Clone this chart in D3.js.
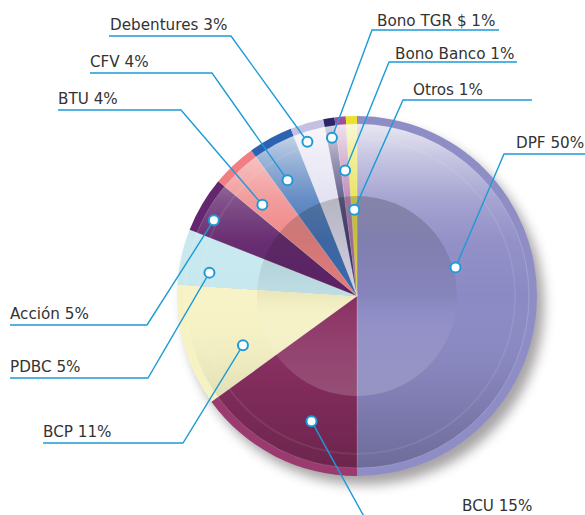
<!DOCTYPE html>
<html>
<head>
<meta charset="utf-8">
<script src="https://cdn.jsdelivr.net/npm/d3@7/dist/d3.min.js"></script>
<style>
  html, body { margin: 0; padding: 0; background: #fff; }
  svg { display: block; }
</style>
</head>
<body>
<div id="chart"></div>
<script>
const categories = ["DPF", "BCU", "BCP", "PDBC", "Acción", "BTU", "CFV", "Debentures", "Bono TGR $", "Bono Banco", "Otros"];
const shares = [50, 15, 11, 5, 5, 4, 4, 3, 1, 1, 1];

// slice colours: body and outer rim
const bodyColors = ["#8c8ac4", "#8a2f62", "#f7f3c6", "#c6e8ef", "#5f2169", "#ef8080", "#3a6cb4", "#dcdaee", "#3b3470", "#b070a8", "#e4dc2c"];
const rimColors = ["#8f8dc6", "#9a3a6e", "#f6f2c4", "#c8e8ee", "#64266f", "#f07e82", "#2d62b2", "#c4c0e2", "#2a2468", "#a0509a", "#ece02c"];

// callout layout: where the dot sits inside the slice (t along angle, fraction of radius)
const dotPlacement = [[0.41, 0.57], [0.37, 0.74], [0.32, 0.69], [0.3, 0.83], [0.35, 0.9], [0.3, 0.73], [0.35, 0.75], [0.35, 0.9], [0.5, 0.89], [0.5, 0.7], [0.5, 0.48]];
// underline x0, x1, y, text x, text baseline, and which end the leader leaves from
const labelLayout = [
  { x0: 504, x1: 590, y: 154, tx: 516, ty: 148, end: "start" },
  { x0: 367, x1: 600, y: 522, tx: 462, ty: 511, end: "start" },
  { x0: 43, x1: 183, y: 443, tx: 43, ty: 437, end: "end" },
  { x0: 10, x1: 148, y: 378, tx: 10, ty: 372, end: "end" },
  { x0: 10, x1: 147, y: 325, tx: 10, ty: 319, end: "end" },
  { x0: 58, x1: 181, y: 110, tx: 58, ty: 104, end: "end" },
  { x0: 90, x1: 212, y: 73, tx: 90, ty: 67, end: "end" },
  { x0: 109, x1: 231, y: 36, tx: 110, ty: 30, end: "end" },
  { x0: 372, x1: 499, y: 30, tx: 377, ty: 26, end: "start" },
  { x0: 389, x1: 517, y: 62, tx: 395, ty: 59, end: "start" },
  { x0: 403, x1: 532, y: 100, tx: 413, ty: 95, end: "start" }
];

const W = 585, H = 515;
const cx = 357, cy = 296, R = 180, RIM = 8;
const LEADER = "#1d9bd7";

const rows = categories.map((name, i) => ({
  name,
  share: shares[i],
  body: bodyColors[i],
  rim: rimColors[i],
  place: dotPlacement[i],
  label: labelLayout[i]
}));

const svg = d3.select("#chart").append("svg").attr("width", W).attr("height", H);
const defs = svg.append("defs");

const shadow = defs.append("filter").attr("id", "blur").attr("x", "-20%").attr("y", "-20%").attr("width", "140%").attr("height", "140%");
shadow.append("feGaussianBlur").attr("stdDeviation", 6);

function vGradient(id, y1, y2, stops) {
  const g = defs.append("linearGradient").attr("id", id)
    .attr("gradientUnits", "userSpaceOnUse")
    .attr("x1", 0).attr("x2", 0).attr("y1", y1).attr("y2", y2);
  stops.forEach(([o, c, a]) => g.append("stop").attr("offset", o).attr("stop-color", c).attr("stop-opacity", a));
}
vGradient("sheen", cy - R + RIM, cy + R - RIM, [[0, "#fff", 0.8], [0.1, "#fff", 0.5], [0.22, "#fff", 0.22], [0.34, "#fff", 0.06], [0.5, "#fff", 0], [0.75, "#000", 0.06], [1, "#000", 0.22]]);
vGradient("core", cy - 100, cy + 100, [[0, "#000", 0.2], [0.5, "#000", 0.04], [0.6, "#fff", 0.03], [1, "#fff", 0.17]]);

const pie = d3.pie().sort(null).value((d) => d.share);
const arcs = pie(rows);

const body = d3.arc().innerRadius(0).outerRadius(R - RIM);
const rimArc = d3.arc().innerRadius(R - RIM - 0.5).outerRadius(R);

const g = svg.append("g").attr("transform", `translate(${cx},${cy})`);

g.append("circle")
  .attr("cx", 7).attr("cy", 9).attr("r", R)
  .attr("fill", "#8a8588").attr("opacity", 0.75)
  .attr("filter", "url(#blur)");

g.selectAll("path.rim")
  .data(arcs)
  .join("path")
  .attr("class", "rim")
  .attr("d", rimArc)
  .attr("fill", (d) => d.data.rim);

g.selectAll("path.slice")
  .data(arcs)
  .join("path")
  .attr("class", "slice")
  .attr("d", body)
  .attr("fill", (d) => d.data.body)
  .attr("stroke", "#fff")
  .attr("stroke-opacity", 0.3)
  .attr("stroke-width", 0.6);

// glassy overlays, drawn in page coordinates
svg.append("circle")
  .attr("cx", cx).attr("cy", cy).attr("r", R - RIM)
  .attr("fill", "url(#sheen)");
svg.append("circle")
  .attr("cx", cx).attr("cy", cy).attr("r", R - RIM - 14)
  .attr("fill", "none").attr("stroke", "#fff").attr("stroke-opacity", 0.08).attr("stroke-width", 2);
svg.append("circle")
  .attr("cx", cx).attr("cy", cy).attr("r", 100)
  .attr("fill", "url(#core)");

// callouts
function dotXY(d) {
  const [t, rf] = d.data.place;
  const a = d.startAngle + t * (d.endAngle - d.startAngle);
  return [cx + rf * R * Math.sin(a), cy - rf * R * Math.cos(a)];
}

const callouts = svg.append("g");

callouts.selectAll("polyline")
  .data(arcs)
  .join("polyline")
  .attr("fill", "none")
  .attr("stroke", LEADER)
  .attr("stroke-width", 1.4)
  .attr("points", (d) => {
    const L = d.data.label;
    const [px, py] = dotXY(d);
    const jx = L.end === "start" ? L.x0 : L.x1;
    const far = L.end === "start" ? L.x1 : L.x0;
    return `${far},${L.y} ${jx},${L.y} ${px},${py}`;
  });

callouts.selectAll("circle")
  .data(arcs)
  .join("circle")
  .attr("cx", (d) => dotXY(d)[0])
  .attr("cy", (d) => dotXY(d)[1])
  .attr("r", 5)
  .attr("fill", "#fff")
  .attr("stroke", LEADER)
  .attr("stroke-width", 2);

callouts.selectAll("text")
  .data(arcs)
  .join("text")
  .attr("x", (d) => d.data.label.tx)
  .attr("y", (d) => d.data.label.ty)
  .attr("font-family", "'Century Gothic', 'DejaVu Sans', sans-serif")
  .attr("font-size", 15.2)
  .attr("fill", "#333")
  .text((d) => `${d.data.name} ${d.data.share}%`);
</script>
</body>
</html>
